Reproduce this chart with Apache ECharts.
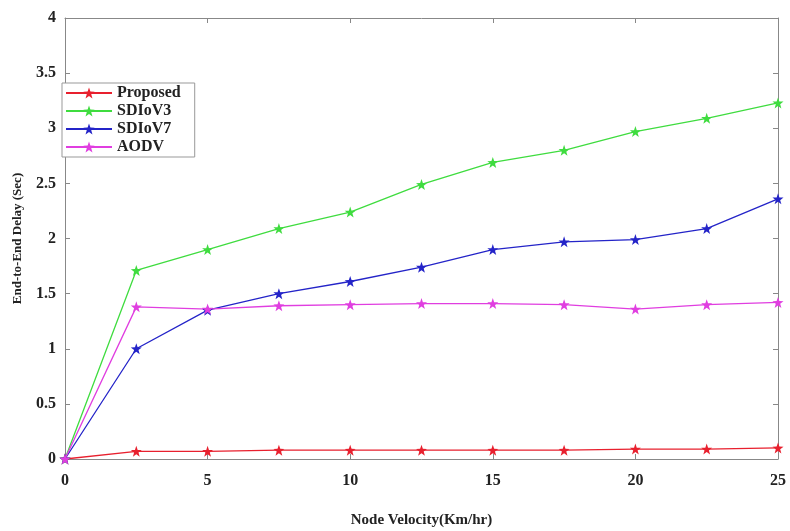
<!DOCTYPE html>
<html>
<head>
<meta charset="utf-8">
<script src="https://cdn.jsdelivr.net/npm/echarts@6/dist/echarts.min.js"></script>
<style>
  html, body { margin: 0; padding: 0; background: #fff; }
  #chart { width: 790px; height: 531px; }
</style>
</head>
<body>
<div id="chart"></div>
<script>
// node velocity (Km/hr)
const velocity = [0, 2.5, 5, 7.5, 10, 12.5, 15, 17.5, 20, 22.5, 25];

// end-to-end delay (Sec)
const proposed = [0, 0.07, 0.07, 0.08, 0.08, 0.08, 0.08, 0.08, 0.09, 0.09, 0.10];
const sdiov3 = [0, 1.71, 1.90, 2.09, 2.24, 2.49, 2.69, 2.80, 2.97, 3.09, 3.23];
const sdiov7 = [0, 1.00, 1.35, 1.50, 1.61, 1.74, 1.90, 1.97, 1.99, 2.09, 2.36];
const aodv = [0, 1.38, 1.36, 1.39, 1.40, 1.41, 1.41, 1.40, 1.36, 1.40, 1.42];

const star = 'path://M50 0 L61.76 33.82 L97.55 34.55 L69.02 56.18 L79.39 90.45 L50 70 L20.61 90.45 L30.98 56.18 L2.45 34.55 L38.24 33.82 Z';
const font = 'Liberation Serif';

function makeSeries(name, values, color) {
    return {
        name: name,
        type: 'line',
        data: velocity.map((v, i) => [v, values[i]]),
        symbol: star,
        symbolSize: 11,
        showAllSymbol: true,
        lineStyle: {width: 1.3, color: color},
        itemStyle: {color: color},
        z: 3
    };
}

// inward ticks on all four sides, like a boxed matlab plot
const tickStyle = {inside: true, length: 5, lineStyle: {color: '#888'}};

const chart = echarts.init(document.getElementById('chart'));
chart.setOption({
    animation: false,
    grid: {left: 65, right: 12, top: 18, bottom: 72, outerBoundsMode: 'none'},
    legend: {
        orient: 'vertical',
        left: 62,
        top: 83,
        padding: [2, 14, 2, 3],
        itemGap: 2,
        itemWidth: 46,
        itemHeight: 14,
        backgroundColor: '#fff',
        borderColor: '#999',
        borderWidth: 1,
        textStyle: {fontFamily: font, fontWeight: 'bold', fontSize: 16, color: '#222'},
        data: ['Proposed', 'SDIoV3', 'SDIoV7', 'AODV']
    },
    xAxis: [{
        type: 'value',
        min: 0,
        max: 25,
        interval: 5,
        name: 'Node Velocity(Km/hr)',
        nameLocation: 'middle',
        nameGap: 54,
        nameTextStyle: {fontFamily: font, fontWeight: 'bold', fontSize: 15, color: '#222'},
        axisLine: {onZero: false, lineStyle: {color: '#888'}},
        axisTick: tickStyle,
        axisLabel: {fontFamily: font, fontWeight: 'bold', fontSize: 16, color: '#222', margin: 14},
        splitLine: {show: false}
    }, {
        type: 'value',
        position: 'top',
        min: 0,
        max: 25,
        interval: 5,
        axisLine: {onZero: false, lineStyle: {color: '#888'}},
        axisTick: tickStyle,
        axisLabel: {show: false},
        splitLine: {show: false}
    }],
    yAxis: [{
        type: 'value',
        min: 0,
        max: 4,
        interval: 0.5,
        name: 'End-to-End Delay (Sec)',
        nameLocation: 'middle',
        nameGap: 41,
        nameTextStyle: {fontFamily: font, fontWeight: 'bold', fontSize: 13, color: '#222'},
        axisLine: {show: true, onZero: false, lineStyle: {color: '#888'}},
        axisTick: Object.assign({show: true}, tickStyle),
        axisLabel: {fontFamily: font, fontWeight: 'bold', fontSize: 16, color: '#222', margin: 9},
        splitLine: {show: false}
    }, {
        type: 'value',
        position: 'right',
        min: 0,
        max: 4,
        interval: 0.5,
        axisLine: {show: true, onZero: false, lineStyle: {color: '#888'}},
        axisTick: Object.assign({show: true}, tickStyle),
        axisLabel: {show: false},
        splitLine: {show: false}
    }],
    series: [
        makeSeries('Proposed', proposed, '#e8202e'),
        makeSeries('SDIoV3', sdiov3, '#3fdc3f'),
        makeSeries('SDIoV7', sdiov7, '#2424c8'),
        makeSeries('AODV', aodv, '#e03ee0')
    ]
});
</script>
</body>
</html>
